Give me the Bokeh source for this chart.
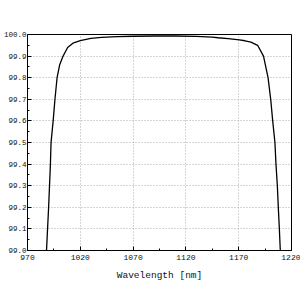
from bokeh.plotting import figure
from bokeh.models import FixedTicker, PrintfTickFormatter, Range1d
from bokeh.embed import file_html
from bokeh.resources import INLINE

wavelength = [988.0, 990.0, 991.7, 992.3, 994.3, 996.0, 998.0, 1000.5, 1003.7, 1008.0,
              1013.0, 1020.0, 1030.0, 1040.0, 1055.0, 1070.0, 1090.0, 1110.0, 1130.0,
              1145.0, 1150.4, 1160.0, 1170.6, 1176.0, 1181.6, 1187.9, 1193.5, 1197.8,
              1200.3, 1202.2, 1204.3, 1205.3, 1206.6, 1207.5, 1208.5, 1209.4]
reflectance = [99.0, 99.2, 99.4, 99.5, 99.6, 99.7, 99.8, 99.86, 99.9, 99.94,
               99.96, 99.972, 99.982, 99.987, 99.99, 99.992, 99.993, 99.993, 99.991,
               99.988, 99.985, 99.981, 99.975, 99.971, 99.965, 99.95, 99.9, 99.8,
               99.7, 99.6, 99.5, 99.4, 99.3, 99.2, 99.1, 99.0]

x_ticks = [970, 1020, 1070, 1120, 1170, 1220]
x_minor = [995, 1045, 1095, 1145, 1195]
y_ticks = [99.0, 99.1, 99.2, 99.3, 99.4, 99.5, 99.6, 99.7, 99.8, 99.9, 100.0]
y_minor = [99.05, 99.15, 99.25, 99.35, 99.45, 99.55, 99.65, 99.75, 99.85, 99.95]

FONT = "Liberation Mono"

p = figure(width=300, height=300, output_backend="svg", toolbar_location=None,
           x_range=Range1d(970, 1220), y_range=Range1d(99.0, 100.0),
           min_border_left=24, min_border_right=9, min_border_top=34, min_border_bottom=50)

p.line(wavelength, reflectance, line_color="black", line_width=1.3)

p.xaxis.ticker = FixedTicker(ticks=x_ticks, minor_ticks=x_minor)
p.yaxis.ticker = FixedTicker(ticks=y_ticks, minor_ticks=y_minor)
p.yaxis.formatter = PrintfTickFormatter(format="%.1f")

for ax in (p.xaxis[0], p.yaxis[0]):
    ax.major_tick_in = 4
    ax.major_tick_out = 0
    ax.minor_tick_in = 2
    ax.minor_tick_out = 0
    ax.axis_line_color = "black"
    ax.major_tick_line_color = "black"
    ax.minor_tick_line_color = "black"
    ax.major_label_text_font = FONT
    ax.major_label_text_font_size = "8px"
    ax.major_label_text_color = "#111111"
    ax.major_label_standoff = 4

p.yaxis.major_label_text_font_size = "7.5px"
p.yaxis.major_label_standoff = 1

p.xaxis.axis_label = "Wavelength [nm]"
p.xaxis.axis_label_text_font = FONT
p.xaxis.axis_label_text_font_size = "9.5px"
p.xaxis.axis_label_text_font_style = "normal"
p.xaxis.axis_label_text_color = "#111111"
p.xaxis.axis_label_standoff = 7

p.outline_line_color = "black"
p.outline_line_width = 1
p.grid.grid_line_color = "#aaaaaa"
p.grid.grid_line_dash = "1 2"
p.grid.grid_line_width = 1

open("out.html", "w").write(file_html(p, INLINE))
